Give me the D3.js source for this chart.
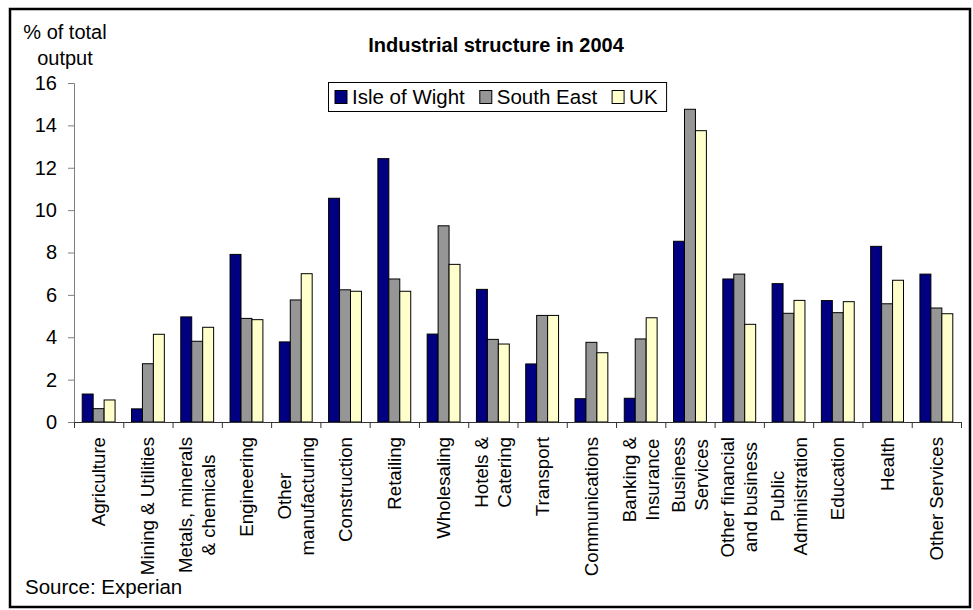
<!DOCTYPE html>
<html>
<head>
<meta charset="utf-8">
<script src="https://cdn.jsdelivr.net/npm/d3@7"></script>
<style>
  body { margin: 0; background: #fff; }
  text { font-family: "Liberation Sans", Arial, sans-serif; fill: #000; }
</style>
</head>
<body>
<div id="chart"></div>
<script>
// categories (label lines) and the three series
const categories = [
    ["Agriculture"],
    ["Mining & Utilities"],
    ["Metals, minerals", "& chemicals"],
    ["Engineering"],
    ["Other", "manufacturing"],
    ["Construction"],
    ["Retailing"],
    ["Wholesaling"],
    ["Hotels &", "Catering"],
    ["Transport"],
    ["Communications"],
    ["Banking &", "Insurance"],
    ["Business", "Services"],
    ["Other financial", "and business"],
    ["Public", "Administration"],
    ["Education"],
    ["Health"],
    ["Other Services"]
]
const seriesNames = ["Isle of Wight", "South East", "UK"]
const isleOfWight = [1.32, 0.62, 4.96, 7.91, 3.78, 10.56, 12.43, 4.15, 6.26, 2.74, 1.1, 1.12, 8.53, 6.75, 6.53, 5.73, 8.29, 6.98]
const southEast = [0.63, 2.75, 3.81, 4.89, 5.76, 6.24, 6.75, 9.26, 3.9, 5.03, 3.76, 3.92, 14.76, 6.98, 5.13, 5.16, 5.58, 5.38]
const uk = [1.04, 4.14, 4.47, 4.83, 7.0, 6.17, 6.17, 7.44, 3.68, 5.03, 3.27, 4.92, 13.75, 4.61, 5.74, 5.68, 6.69, 5.11]
const yTicks = [0, 2, 4, 6, 8, 10, 12, 14, 16]

const colors = ["#000080", "#969696", "#ffffcc"]
const allSeries = [isleOfWight, southEast, uk]

let width = 973
let height = 610

let svg = d3.select("#chart")
    .append("svg")
    .attr("width", width)
    .attr("height", height)

// outer frame
svg.append("rect")
    .attr("x", 10)
    .attr("y", 9)
    .attr("width", 960)
    .attr("height", 598)
    .attr("fill", "none")
    .attr("stroke", "#000")
    .attr("stroke-width", 2.5)

let keys = categories.map(c => c.join(" "))

let x = d3.scaleBand()
    .domain(keys)
    .range([74, 961])
    .paddingInner(0)
    .paddingOuter(0)

// Excel style gap: 150% of a bar width, split on both sides
let xSub = d3.scaleBand()
    .domain(seriesNames)
    .range([0, x.bandwidth()])
    .paddingInner(0)
    .paddingOuter(0.75)

let y = d3.scaleLinear()
    .domain([0, 16])
    .range([422, 83])

// bars
let groups = svg.selectAll(".cat")
    .data(keys)
    .enter()
    .append("g")
    .attr("transform", d => "translate(" + x(d) + ",0)")

groups.selectAll("rect")
    .data((d, i) => allSeries.map((s, j) => ({name: seriesNames[j], value: s[i], j: j})))
    .enter()
    .append("rect")
    .attr("x", d => xSub(d.name))
    .attr("y", d => y(d.value))
    .attr("width", xSub.bandwidth())
    .attr("height", d => y(0) - y(d.value))
    .attr("fill", d => colors[d.j])
    .attr("stroke", "#000")
    .attr("stroke-width", 1)

// y axis
let yAxis = svg.append("g")
    .attr("transform", "translate(74,0)")
    .call(d3.axisLeft(y).tickValues(yTicks).tickSize(6).tickPadding(11))
yAxis.select(".domain").attr("stroke", "#808080")
yAxis.selectAll(".tick line").attr("stroke", "#808080")
yAxis.selectAll(".tick text")
    .style("font-size", "20px")
    .style("font-family", "'Liberation Sans', Arial, sans-serif")

// x axis: ticks on category boundaries
let xb = d3.scaleLinear().domain([0, keys.length]).range(x.range())
let xAxis = svg.append("g")
    .attr("transform", "translate(0," + y(0) + ")")
    .call(d3.axisBottom(xb).tickValues(d3.range(keys.length + 1)).tickSize(6).tickFormat(""))
xAxis.select(".domain").attr("stroke", "#333")
xAxis.selectAll(".tick line").attr("stroke", "#333")

// rotated category labels, block top at y = 437
let labelSize = 18.7
let lineGap = 23
categories.forEach((lines, i) => {
    let cx = x(keys[i]) + x.bandwidth() / 2
    let g = svg.append("g")
    let texts = lines.map((line, k) => {
        let off = (k - (lines.length - 1) / 2) * lineGap
        return g.append("text")
            .attr("text-anchor", "middle")
            .attr("dy", "0.35em")
            .attr("transform", "translate(" + (cx + off) + ",0) rotate(-90)")
            .style("font-size", labelSize + "px")
            .text(line)
    })
    let maxLen = d3.max(texts, t => t.node().getComputedTextLength())
    g.attr("transform", "translate(0," + (437 + maxLen / 2) + ")")
})

// titles
svg.append("text")
    .attr("x", 496)
    .attr("y", 52)
    .attr("text-anchor", "middle")
    .style("font-size", "20px")
    .style("font-weight", "bold")
    .text("Industrial structure in 2004")

svg.append("text")
    .attr("x", 65)
    .attr("y", 39)
    .attr("text-anchor", "middle")
    .style("font-size", "20px")
    .text("% of total")
svg.append("text")
    .attr("x", 65)
    .attr("y", 65)
    .attr("text-anchor", "middle")
    .style("font-size", "20px")
    .text("output")

svg.append("text")
    .attr("x", 25)
    .attr("y", 594)
    .style("font-size", "20.5px")
    .text("Source: Experian")

// legend
let legend = svg.append("g")
let legendBox = legend.append("rect")
    .attr("fill", "#fff")
    .attr("stroke", "#000")
    .attr("stroke-width", 1)
let lx = 335
seriesNames.forEach((name, j) => {
    legend.append("rect")
        .attr("x", lx)
        .attr("y", 90.5)
        .attr("width", 12)
        .attr("height", 13)
        .attr("fill", colors[j])
        .attr("stroke", "#000")
    let t = legend.append("text")
        .attr("x", lx + 17)
        .attr("y", 104)
        .style("font-size", "20.5px")
        .text(name)
    lx += 17 + t.node().getComputedTextLength() + 15
})
legendBox
    .attr("x", 328.5)
    .attr("y", 82.5)
    .attr("width", lx - 15 + 9 - 328.5)
    .attr("height", 29)
</script>
</body>
</html>
